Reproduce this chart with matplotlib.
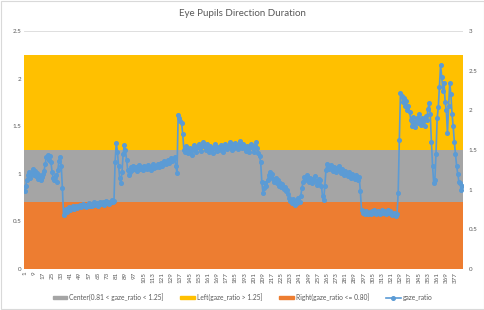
import matplotlib.pyplot as plt
from matplotlib.patches import Patch, Rectangle
from matplotlib.lines import Line2D

# gaze_ratio (eje secundario 0-3)
gaze_ratio = [
    0.98, 1.05, 1.12, 1.18, 1.22, 1.15, 1.20, 1.26, 1.19, 1.23, 1.17, 1.21, 1.14, 1.18, 1.12, 1.16, 1.20, 1.24,
    1.32, 1.41, 1.44, 1.38, 1.43, 1.35, 1.22, 1.15, 1.12, 1.18, 1.10, 1.25, 1.36, 1.41, 1.30, 1.02,
    0.68, 0.74, 0.76, 0.72, 0.75, 0.78, 0.74, 0.77, 0.79, 0.76, 0.78, 0.80, 0.77, 0.79, 0.81, 0.78, 0.80, 0.82,
    0.79, 0.81, 0.78, 0.80, 0.83, 0.80, 0.82, 0.79, 0.81, 0.84, 0.81, 0.83, 0.80, 0.82, 0.85, 0.82, 0.84, 0.81,
    0.83, 0.86, 0.83, 0.85, 0.82, 0.84, 0.87, 0.84, 0.86,
    1.35, 1.59, 1.48, 1.30, 1.15, 1.08, 1.22, 1.45, 1.56, 1.50, 1.38, 1.25, 1.18,
    1.22, 1.28, 1.25, 1.30, 1.26, 1.29, 1.24, 1.27, 1.31, 1.26, 1.28, 1.25, 1.30, 1.27, 1.29, 1.26, 1.31, 1.28,
    1.25, 1.29, 1.32, 1.27, 1.30, 1.28, 1.33, 1.29, 1.31, 1.34, 1.30, 1.33, 1.36, 1.32, 1.35, 1.38, 1.34, 1.37,
    1.40, 1.36, 1.39, 1.41, 1.30, 1.21,
    1.94, 1.90, 1.86, 1.84, 1.70, 1.50,
    1.48, 1.55, 1.50, 1.46, 1.53, 1.49, 1.44, 1.51, 1.56, 1.52, 1.47, 1.54, 1.58, 1.53, 1.49, 1.55, 1.60, 1.54,
    1.50, 1.57, 1.52, 1.48, 1.55, 1.51, 1.46, 1.53, 1.57, 1.52, 1.49, 1.54, 1.50, 1.56, 1.52, 1.47, 1.53, 1.58,
    1.55, 1.51, 1.56, 1.60, 1.54, 1.50, 1.57, 1.53, 1.59, 1.55, 1.51, 1.58, 1.62, 1.56, 1.52, 1.57, 1.53, 1.49,
    1.55, 1.51, 1.47, 1.54, 1.58, 1.52, 1.48, 1.55, 1.60, 1.53, 1.46, 1.42, 1.35,
    1.10, 0.96, 1.02, 1.08, 1.05, 1.12, 1.18, 1.22, 1.16, 1.20, 1.14, 1.10, 1.15, 1.08, 1.12, 1.05, 1.09, 1.03,
    1.07, 1.01, 1.04, 0.98, 1.00,
    0.95, 0.90, 0.86, 0.83, 0.88, 0.84, 0.81, 0.86, 0.83, 0.89, 0.85, 0.92,
    1.02, 1.10, 1.16, 1.12, 1.18, 1.14, 1.10, 1.15, 1.12, 1.08, 1.13, 1.17, 1.11, 1.06, 1.09, 1.14, 1.12, 1.05,
    0.92, 0.87, 1.05,
    1.25, 1.33, 1.30, 1.26, 1.31, 1.28, 1.24, 1.29, 1.26, 1.22, 1.27, 1.30, 1.25, 1.21, 1.26, 1.23, 1.19, 1.24,
    1.21, 1.17, 1.22, 1.19, 1.15, 1.20, 1.17, 1.14, 1.18, 1.15, 1.12, 1.16, 0.98,
    0.74, 0.71, 0.72, 0.70, 0.73, 0.71, 0.69, 0.72, 0.70, 0.73, 0.71, 0.74, 0.72, 0.70, 0.73, 0.71, 0.69, 0.72,
    0.74, 0.71, 0.73, 0.70, 0.72, 0.75, 0.71, 0.73, 0.70, 0.68, 0.71, 0.69, 0.67, 0.70,
    0.96, 1.63, 2.22, 2.18, 2.10, 2.15, 2.05, 2.12, 2.00, 2.06, 1.98,
    1.88, 1.80, 1.92, 1.85, 1.79, 1.90, 1.84, 1.95, 1.87, 1.82, 1.91, 1.86, 1.80, 1.93, 1.88, 2.02, 2.09,
    1.95, 1.60, 1.30, 1.08, 1.12, 1.45, 1.90, 2.04, 2.30, 2.57, 2.42, 2.25, 2.35, 2.10, 2.00, 1.71, 2.05, 2.34,
    2.20, 1.95, 1.80, 1.60, 1.45, 1.30, 1.20, 1.10, 1.08, 1.00, 1.05,
]

n = len(gaze_ratio)
frames = list(range(1, n + 1))

# bandas apiladas (eje principal 0-2.5)
right_band = [0.70] * n
center_band = [0.55] * n
left_band = [1.00] * n

label_center = 'Center(0.81 < gaze_ratio < 1.25]'
label_left = 'Left(gaze_ratio > 1.25]'
label_right = 'Right(gaze_ratio <= 0.80]'

c_center = '#A5A5A5'
c_left = '#FFC000'
c_right = '#ED7D31'
c_line = '#5B9BD5'
c_text = '#595959'

plt.rcParams['font.family'] = ['Lato', 'DejaVu Sans']

fig = plt.figure(figsize=(4.85, 3.10), dpi=100)
ax = fig.add_axes([0.0495, 0.132, 0.905, 0.768])

x = list(range(n))
ax.bar(x, right_band, width=1.0, color=c_right, linewidth=0, zorder=2)
ax.bar(x, center_band, width=1.0, bottom=right_band, color=c_center, linewidth=0, zorder=2)
bottom2 = [a + b for a, b in zip(right_band, center_band)]
ax.bar(x, left_band, width=1.0, bottom=bottom2, color=c_left, linewidth=0, zorder=2)

ax.set_xlim(-0.5, n - 0.5)
ax.set_ylim(0, 2.5)
ax.set_yticks([0, 0.5, 1, 1.5, 2, 2.5])
ax.set_yticklabels(['0', '0.5', '1', '1.5', '2', '2.5'])
ax.grid(axis='y', color='#D9D9D9', linewidth=0.6, zorder=0)
ax.set_axisbelow(True)

ticks = x[::8]
ax.set_xticks(ticks)
ax.set_xticklabels([str(frames[i]) for i in ticks], rotation=90)
ax.tick_params(axis='both', length=0, labelsize=4.5, colors=c_text, pad=2)
for s in ax.spines.values():
    s.set_visible(False)

ax2 = ax.twinx()
ax2.plot(x, gaze_ratio, color=c_line, linewidth=1.2, marker='o', markersize=2.6, zorder=3)
ax2.set_ylim(0, 3)
ax2.set_yticks([0, 0.5, 1, 1.5, 2, 2.5, 3])
ax2.set_yticklabels(['0', '0.5', '1', '1.5', '2', '2.5', '3'])
ax2.tick_params(axis='y', length=0, labelsize=4.5, colors=c_text, pad=4)
for s in ax2.spines.values():
    s.set_visible(False)

fig.text(0.5, 0.955, 'Eye Pupils Direction Duration', ha='center', va='center',
         fontsize=7, color=c_text)

handles = [
    Patch(color=c_center, label=label_center),
    Patch(color=c_left, label=label_left),
    Patch(color=c_right, label=label_right),
    Line2D([], [], color=c_line, marker='o', markersize=2.6, linewidth=1.2, label='gaze_ratio'),
]
fig.legend(handles=handles, loc='center', bbox_to_anchor=(0.5, 0.042), ncol=4, frameon=False,
           fontsize=4.8, labelcolor=c_text, handlelength=2.2, handleheight=0.5,
           columnspacing=2.5, handletextpad=0.3)

fig.patches.append(Rectangle((0.002, 0.003), 0.995, 0.994, transform=fig.transFigure,
                             fill=False, edgecolor='#D9D9D9', linewidth=0.8))

fig.savefig('out.png', dpi=100)
